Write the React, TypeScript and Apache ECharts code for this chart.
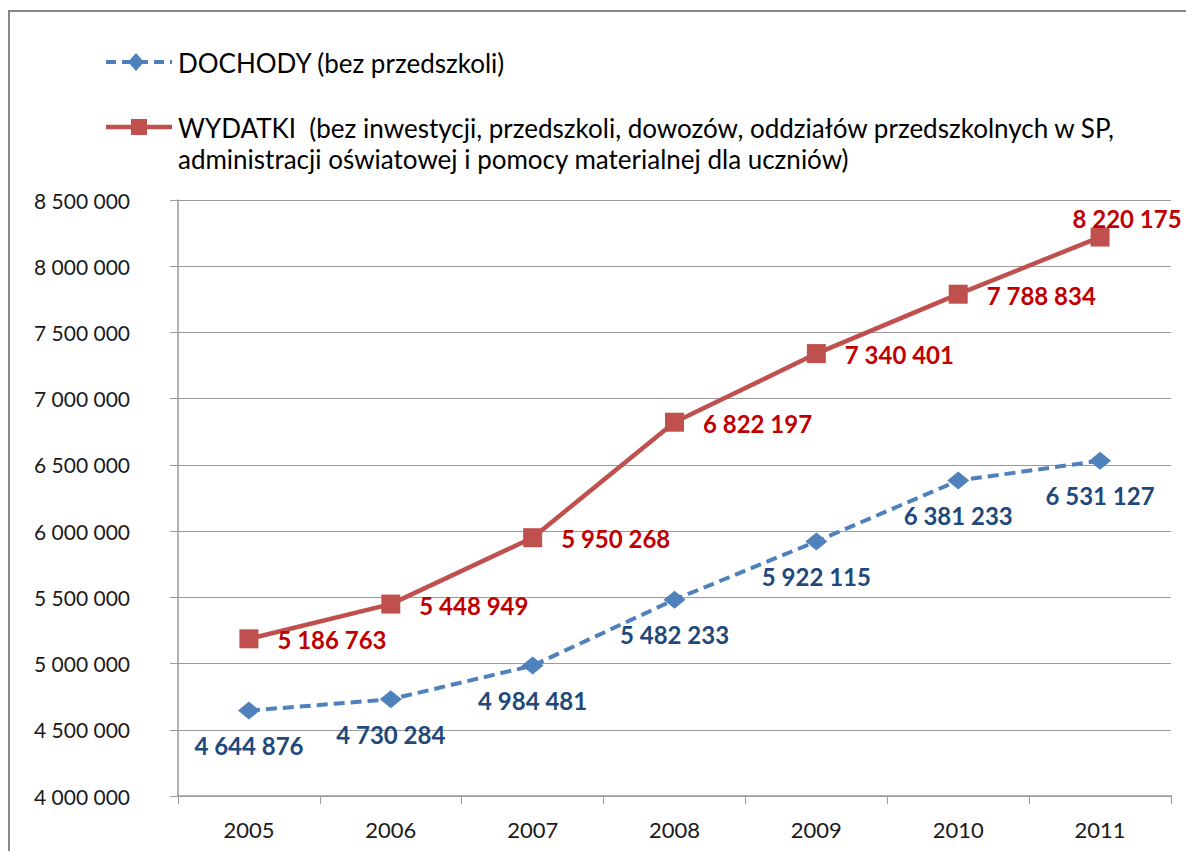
import React, { useEffect, useRef } from "react";
import * as echarts from "echarts";

const years = ["2005", "2006", "2007", "2008", "2009", "2010", "2011"];
const dochody = [4644876, 4730284, 4984481, 5482233, 5922115, 6381233, 6531127];
const wydatki = [5186763, 5448949, 5950268, 6822197, 7340401, 7788834, 8220175];
const legendDochody = "DOCHODY (bez przedszkoli)";
const legendWydatki1 = "WYDATKI  (bez inwestycji, przedszkoli, dowozów, oddziałów przedszkolnych w SP,";
const legendWydatki2 = "administracji oświatowej i pomocy materialnej dla uczniów)";

const FONT = "Lato, 'Open Sans', sans-serif";
const BLUE = "#4F81BD";
const RED = "#C0504D";

function fmt(v: number, sep: string) {
  return String(v).replace(/\B(?=(\d{3})+(?!\d))/g, sep);
}

export default function App() {
  const ref = useRef<HTMLDivElement>(null);
  useEffect(() => {
    if (!ref.current) return;
    const chart = echarts.init(ref.current, undefined, { renderer: "svg" });
    const lastIdx = wydatki.length - 1;
    chart.setOption({
      animation: false,
      backgroundColor: "#fff",
      grid: { left: 178, top: 200, right: 15, bottom: 55 },
      xAxis: {
        type: "category",
        data: years,
        boundaryGap: true,
        axisLine: { lineStyle: { color: "#9a9a9a", width: 1.5 } },
        axisTick: { show: true, length: 8, lineStyle: { color: "#9a9a9a" } },
        axisLabel: { color: "#1a1a1a", fontSize: 22, fontFamily: FONT, margin: 22 },
      },
      yAxis: {
        type: "value",
        min: 4000000,
        max: 8500000,
        interval: 500000,
        axisLine: { show: true, lineStyle: { color: "#9a9a9a", width: 1.5 } },
        axisTick: { show: true, length: 8, lineStyle: { color: "#9a9a9a" } },
        splitLine: { lineStyle: { color: "#9a9a9a", width: 1.2 } },
        axisLabel: {
          color: "#1a1a1a",
          fontSize: 21,
          fontFamily: FONT,
          margin: 48,
          formatter: (v: number) => fmt(v, " "),
        },
      },
      series: [
        {
          name: "DOCHODY",
          type: "line",
          data: dochody,
          symbol: "diamond",
          symbolSize: [22, 18],
          itemStyle: { color: BLUE },
          lineStyle: { color: BLUE, width: 4, type: [11, 6] },
          label: {
            show: true,
            position: "bottom",
            distance: 14,
            color: "#1F497D",
            fontSize: 24,
            fontWeight: "bold",
            fontFamily: FONT,
            formatter: (p: any) => fmt(p.value, " "),
          },
        },
        {
          name: "WYDATKI",
          type: "line",
          data: wydatki.map((v, i) =>
            i === lastIdx
              ? { value: v, label: { position: "top", distance: 6, offset: [27, 9] } }
              : v
          ),
          symbol: "rect",
          symbolSize: 19,
          itemStyle: { color: RED },
          lineStyle: { color: RED, width: 4.5 },
          label: {
            show: true,
            position: "right",
            distance: 19,
            offset: [0, 1],
            color: "#C00000",
            fontSize: 24,
            fontWeight: "bold",
            fontFamily: FONT,
            formatter: (p: any) => fmt(p.value, " "),
          },
        },
      ],
      graphic: [
        {
          type: "rect",
          shape: { x: 9, y: 11, width: 1300, height: 1000 },
          style: { fill: "none", stroke: "#888", lineWidth: 2 },
          silent: true,
        },
        {
          type: "line",
          shape: { x1: 106, y1: 62, x2: 172, y2: 62 },
          style: { stroke: BLUE, lineWidth: 4, lineDash: [10, 6] },
        },
        {
          type: "polygon",
          shape: { points: [[136, 53], [144, 62], [136, 71], [128, 62]] },
          style: { fill: BLUE },
        },
        {
          type: "text",
          x: 178,
          y: 63,
          style: { text: legendDochody, font: `26px ${FONT}`, fill: "#000", verticalAlign: "middle" },
        },
        {
          type: "line",
          shape: { x1: 106, y1: 127, x2: 172, y2: 127 },
          style: { stroke: RED, lineWidth: 4.5 },
        },
        {
          type: "rect",
          shape: { x: 131, y: 119, width: 16, height: 16 },
          style: { fill: RED },
        },
        {
          type: "text",
          x: 178,
          y: 128,
          style: { text: legendWydatki1, font: `26px ${FONT}`, fill: "#000", verticalAlign: "middle" },
        },
        {
          type: "text",
          x: 178,
          y: 159,
          style: { text: legendWydatki2, font: `26px ${FONT}`, fill: "#000", verticalAlign: "middle" },
        },
      ],
    });
    return () => chart.dispose();
  }, []);
  return (
    <div
      ref={ref}
      style={{ position: "absolute", left: 0, top: 0, width: 1186, height: 851 }}
    />
  );
}
